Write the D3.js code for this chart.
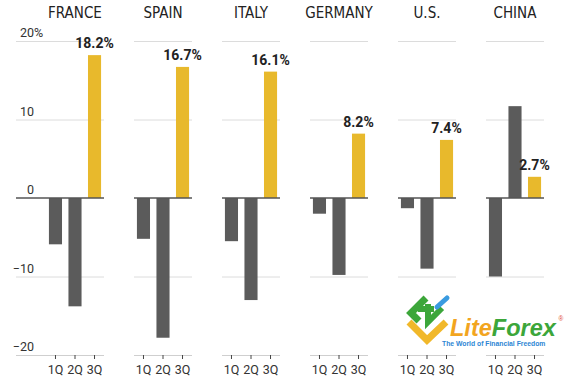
<!DOCTYPE html>
<html><head><meta charset="utf-8">
<script src="https://cdn.jsdelivr.net/npm/d3@7"></script>
<style>
html,body{margin:0;padding:0;background:#fff;}
svg{display:block;}
.title{font-family:"Liberation Sans Narrow","DejaVu Sans Condensed","Roboto",sans-serif;font-size:15px;fill:#222;}
.tick{font-family:"Liberation Sans Narrow","Roboto",sans-serif;font-size:12.5px;fill:#333;}
.val{font-family:"Roboto","Liberation Sans",sans-serif;font-weight:bold;font-size:14px;fill:#222;}
</style>
</head><body>
<svg id="chart" width="568" height="378"></svg>
<script>
const countries = ["FRANCE","SPAIN","ITALY","GERMANY","U.S.","CHINA"];
const quarters = ["1Q","2Q","3Q"];
const q1 = [-5.9,-5.2,-5.5,-2.0,-1.3,-10.0];
const q2 = [-13.8,-17.8,-13.0,-9.8,-9.0,11.7];
const q3 = [18.2,16.7,16.1,8.2,7.4,2.7];
const yTicks = [-20,-10,0,10,20];

const svg = d3.select("#chart");
svg.append("rect").attr("width",568).attr("height",378).attr("fill","#fff");

const y = d3.scaleLinear().domain([-20,20]).range([355,41]);
const xc = d3.scaleBand().domain(countries).range([46,544]).paddingInner(30/88).paddingOuter(0);
const xq = d3.scaleBand().domain(quarters).range([0,xc.bandwidth()]).paddingInner(0.33).paddingOuter(0.15);

const data = countries.map((c,i)=>({country:c, values:[q1[i],q2[i],q3[i]]}));

// grid lines
data.forEach((d,i)=>{
  const x0 = xc(d.country), x1 = x0 + xc.bandwidth();
  const xs = i===0 ? 16 : x0;
  yTicks.filter(t=>t!==0).forEach(t=>{
    svg.append("line").attr("x1",xs).attr("x2",x1).attr("y1",y(t)+0.5).attr("y2",y(t)+0.5)
      .attr("stroke", t===-20 ? "#cfcfcf" : "#dcdcdc").attr("stroke-width",1);
  });
});

// y labels
const fmt = d3.format("d");
yTicks.forEach(t=>{
  svg.append("text").attr("class","tick").attr("x",34).attr("y",y(t)-4)
    .attr("text-anchor","end").text(fmt(t));
  if(t===20){
    svg.append("text").attr("class","tick").attr("x",34).attr("y",y(t)-4).text("%");
  }
});

// panels
data.forEach((d,i)=>{
  const g = svg.append("g").attr("transform",`translate(${xc(d.country)},0)`);
  g.append("text").attr("class","title").attr("x",xc.bandwidth()/2).attr("y",18)
    .attr("text-anchor","middle").text(d.country);
  g.selectAll("rect.bar").data(d.values).join("rect").attr("class","bar")
    .attr("x",(v,j)=>xq(quarters[j])).attr("width",xq.bandwidth())
    .attr("y",v=>y(Math.max(0,v))).attr("height",v=>Math.abs(y(v)-y(0)))
    .attr("fill",(v,j)=>j===2?"#e8b92c":"#5b5b5b");
  const v3 = d.values[2];
  g.append("text").attr("class","val").attr("x",xq("3Q")+xq.bandwidth()/2).attr("y",y(v3)-7)
    .attr("text-anchor","middle").text(v3.toFixed(1)+"%");
  g.append("line").attr("x1", i===0 ? 16-xc(d.country) : 0).attr("x2",xc.bandwidth())
    .attr("y1",y(0)).attr("y2",y(0)).attr("stroke","#555").attr("stroke-width",1.5);
  quarters.forEach(q=>{
    const cx = xq(q)+xq.bandwidth()/2;
    g.append("line").attr("x1",cx).attr("x2",cx).attr("y1",y(-20)).attr("y2",y(-20)+4)
      .attr("stroke","#444").attr("stroke-width",1);
    g.append("text").attr("class","tick").attr("x",cx).attr("y",374).attr("text-anchor","middle").text(q);
  });
});

// LiteForex logo
const logo = svg.append("g");
logo.append("path").attr("d","M409,322 L427,340 L446,322").attr("fill","none")
  .attr("stroke","#f1b82a").attr("stroke-width",7).attr("stroke-linejoin","miter");
logo.append("path").attr("d","M426,298 L411,313 L419,321").attr("fill","none")
  .attr("stroke","#3ca63a").attr("stroke-width",7);
logo.append("path").attr("d","M418,309 L434,309 M428,304 L428,322 L442,308").attr("fill","none")
  .attr("stroke","#3ca63a").attr("stroke-width",6);
logo.append("path").attr("d","M437,307 L447,298").attr("fill","none")
  .attr("stroke","#3a9be0").attr("stroke-width",5).attr("stroke-linecap","round");
const lt = logo.append("text").attr("x",450).attr("y",336)
  .attr("font-family","Liberation Sans, Arial, sans-serif").attr("font-weight","bold").attr("font-style","italic")
  .attr("font-size",23.5);
lt.append("tspan").attr("fill","#f2a51f").text("Lite");
lt.append("tspan").attr("fill","#3ca63a").text("Forex");
logo.append("text").attr("x",561).attr("y",321).attr("font-family","Liberation Sans, sans-serif")
  .attr("font-size",6.5).attr("fill","#e0452b").attr("text-anchor","middle").text("®");
logo.append("text").attr("x",442).attr("y",346).attr("font-family","Liberation Sans, sans-serif")
  .attr("font-weight","bold").attr("font-size",6.8).attr("fill","#2d86d4").text("The World of Financial Freedom");
</script>
</body></html>
